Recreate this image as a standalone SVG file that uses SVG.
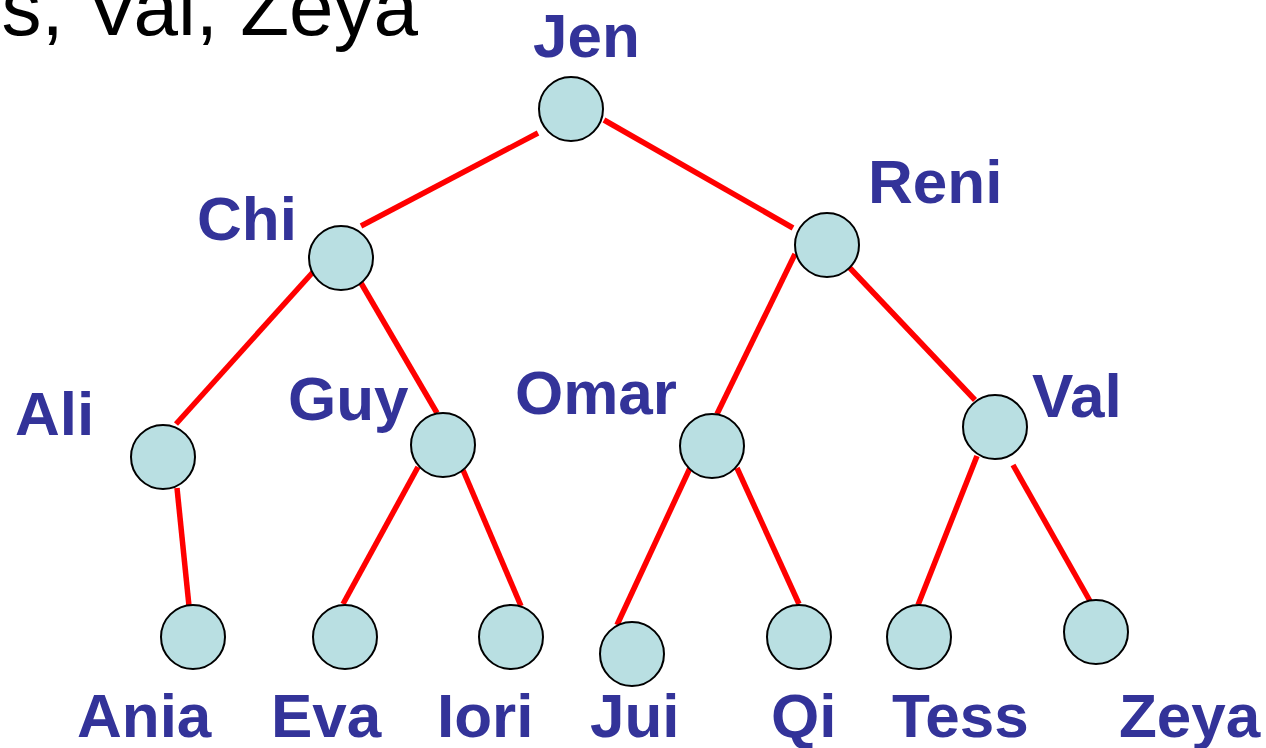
<svg xmlns="http://www.w3.org/2000/svg" width="1266" height="748" viewBox="0 0 1266 748">
  <style>
    .edge { stroke: #ff0000; stroke-width: 5.5; fill: none; }
    .node circle { fill: #b9dfe2; stroke: #000000; stroke-width: 2; }
    .label { font-family: "Liberation Sans", Arial, sans-serif; font-weight: bold; font-size: 62px; fill: #333399; }
    .title { font-family: "Liberation Sans", Arial, sans-serif; font-size: 80px; fill: #000000; }
  </style>
  <rect width="1266" height="748" fill="#ffffff"/>

  <!-- tail of the heading line, running off the top edge -->
  <text class="title" x="418" y="35" text-anchor="end">s, Val, Zeya</text>

  <!-- tree edges -->
  <g id="connectors">
    <line class="edge" x1="538" y1="133" x2="361" y2="226"/>
    <line class="edge" x1="604" y1="120" x2="793" y2="228"/>
    <line class="edge" x1="313" y1="272" x2="176" y2="424"/>
    <line class="edge" x1="361" y1="283" x2="437" y2="413"/>
    <line class="edge" x1="795" y1="254" x2="717" y2="414"/>
    <line class="edge" x1="848" y1="266" x2="975" y2="400"/>
    <line class="edge" x1="177" y1="488" x2="189" y2="606"/>
    <line class="edge" x1="418" y1="467" x2="343" y2="604"/>
    <line class="edge" x1="463" y1="470" x2="521" y2="606"/>
    <line class="edge" x1="690" y1="468" x2="617" y2="625"/>
    <line class="edge" x1="737" y1="468" x2="799" y2="604"/>
    <line class="edge" x1="977" y1="456" x2="918" y2="605"/>
    <line class="edge" x1="1013" y1="465" x2="1090" y2="601"/>
  </g>

  <g id="jen" class="node"><circle cx="571" cy="109" r="32"/><text class="label" x="533" y="57">Jen</text></g>
  <g id="chi" class="node"><circle cx="341" cy="258" r="32"/><text class="label" x="197" y="240">Chi</text></g>
  <g id="reni" class="node"><circle cx="827" cy="245" r="32"/><text class="label" x="868" y="203">Reni</text></g>
  <g id="ali" class="node"><circle cx="163" cy="457" r="32"/><text class="label" x="15" y="435">Ali</text></g>
  <g id="guy" class="node"><circle cx="443" cy="445" r="32"/><text class="label" x="288" y="420">Guy</text></g>
  <g id="omar" class="node"><circle cx="712" cy="446" r="32"/><text class="label" x="515" y="414">Omar</text></g>
  <g id="val" class="node"><circle cx="995" cy="427" r="32"/><text class="label" x="1032" y="417">Val</text></g>
  <g id="ania" class="node"><circle cx="193" cy="637" r="32"/><text class="label" x="77" y="737">Ania</text></g>
  <g id="eva" class="node"><circle cx="345" cy="637" r="32"/><text class="label" x="271" y="737">Eva</text></g>
  <g id="iori" class="node"><circle cx="511" cy="637" r="32"/><text class="label" x="437" y="737">Iori</text></g>
  <g id="jui" class="node"><circle cx="632" cy="654" r="32"/><text class="label" x="590" y="737">Jui</text></g>
  <g id="qi" class="node"><circle cx="799" cy="637" r="32"/><text class="label" x="771" y="737">Qi</text></g>
  <g id="tess" class="node"><circle cx="919" cy="637" r="32"/><text class="label" x="892" y="737">Tess</text></g>
  <g id="zeya" class="node"><circle cx="1096" cy="632" r="32"/><text class="label" x="1119" y="737">Zeya</text></g>
</svg>
